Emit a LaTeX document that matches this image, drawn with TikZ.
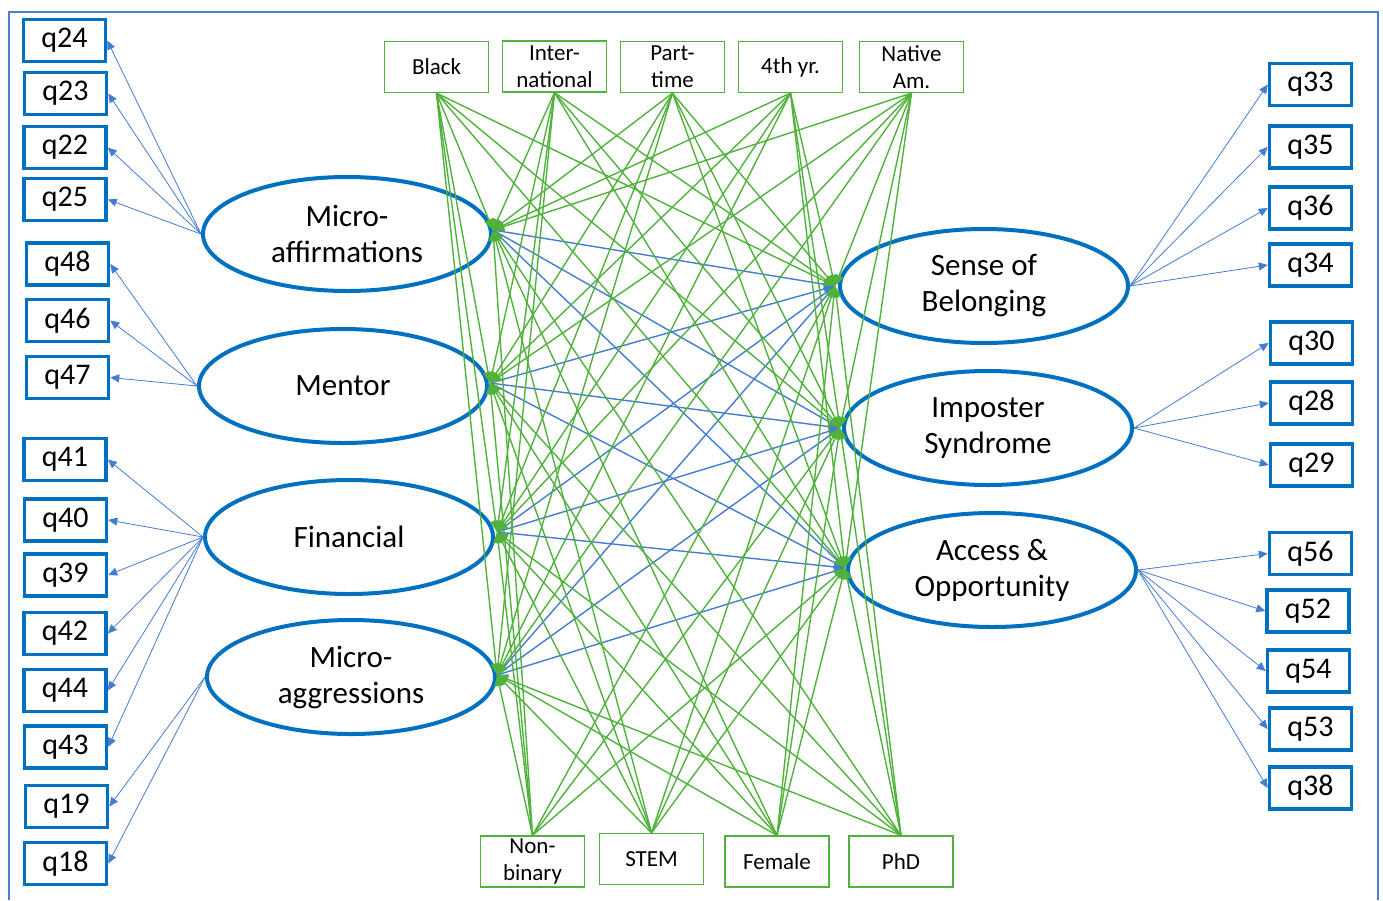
\documentclass[tikz,border=0pt]{standalone}
\usepackage{fontspec}
\setmainfont{Carlito}
\usetikzlibrary{shapes.geometric,arrows.meta}
\definecolor{eblue}{RGB}{0,112,192}
\definecolor{lblue}{RGB}{68,124,210}
\definecolor{fblue}{RGB}{70,130,205}
\definecolor{dgreen}{RGB}{80,178,60}
\tikzset{
  qbox/.style={draw=eblue,line width=3.5pt,minimum width=82pt,minimum height=42pt,inner sep=0pt,font=\fontsize{30}{32}\selectfont},
  factor/.style={ellipse,draw=eblue,line width=4pt,minimum width=288pt,minimum height=114pt,inner sep=0pt,align=center,font=\fontsize{31}{36}\selectfont},
  demo/.style={draw=dgreen,line width=1.3pt,minimum width=104pt,minimum height=51pt,inner sep=0pt,align=center,font=\fontsize{23}{27}\selectfont},
  load/.style={draw=lblue,line width=0.8pt,-{Triangle[length=9pt,width=8pt]}},
  gpath/.style={draw=dgreen,line width=1.4pt,-{Triangle[length=11pt,width=10pt]}},
  bpath/.style={draw=lblue,line width=1.4pt,-{Triangle[length=11pt,width=10pt]}}
}
\begin{document}
\begin{tikzpicture}[x=1pt,y=-1pt]
\useasboundingbox (0,0) rectangle (1383,900);
\draw[fblue,line width=1.5pt] (9,900) -- (9,12) -- (1378,12) -- (1378,900);
% left observed
\node[qbox] (q24) at (64.5,40.5) {q24};
\node[qbox] (q23) at (65.5,93.5) {q23};
\node[qbox] (q22) at (65,147.5) {q22};
\node[qbox] (q25) at (65,199.5) {q25};
\node[qbox] (q48) at (67.5,264) {q48};
\node[qbox] (q46) at (67.5,320.5) {q46};
\node[qbox] (q47) at (67.5,377.5) {q47};
\node[qbox] (q41) at (65,459.5) {q41};
\node[qbox] (q40) at (65.5,520) {q40};
\node[qbox] (q39) at (65.5,575) {q39};
\node[qbox] (q42) at (65,633.5) {q42};
\node[qbox] (q44) at (65,690.5) {q44};
\node[qbox] (q43) at (65.5,747) {q43};
\node[qbox] (q19) at (66.5,806.5) {q19};
\node[qbox] (q18) at (65.5,863.5) {q18};
% right observed
\node[qbox] (q33) at (1310.5,84.5) {q33};
\node[qbox] (q35) at (1310.5,147) {q35};
\node[qbox] (q36) at (1310.5,208) {q36};
\node[qbox] (q34) at (1310.5,265) {q34};
\node[qbox] (q30) at (1311.5,343) {q30};
\node[qbox] (q28) at (1311.5,403) {q28};
\node[qbox] (q29) at (1311.5,465) {q29};
\node[qbox] (q56) at (1310.5,553.5) {q56};
\node[qbox] (q52) at (1308,611) {q52};
\node[qbox] (q54) at (1308.5,671) {q54};
\node[qbox] (q53) at (1310.5,729) {q53};
\node[qbox] (q38) at (1310.5,788) {q38};
% factors
\node[factor] (MA) at (347,234) {Micro-\\affirmations};
\node[factor] (MEN) at (343,386) {Mentor};
\node[factor] (FIN) at (349,537) {Financial};
\node[factor] (MAG) at (351,677) {Micro-\\aggressions};
\node[factor] (SB) at (984,286) {Sense of\\Belonging};
\node[factor] (IS) at (988,428) {Imposter\\Syndrome};
\node[factor] (AO) at (992,570) {Access \&\\Opportunity};
% attach points
\coordinate (MAp) at (493,230);
\coordinate (MENp) at (490,383);
\coordinate (FINp) at (497,532);
\coordinate (MAGp) at (497,675);
\coordinate (SBp) at (835,286);
\coordinate (ISp) at (840,428);
\coordinate (AOp) at (845,568);
% demographics
\node[demo] (Black) at (436.5,67) {Black};
\node[demo] (Intl) at (554.5,66.5) {Inter-\\national};
\node[demo] (Part) at (672.5,67) {Part-\\time};
\node[demo] (Fourth) at (790.5,67) {4th yr.};
\node[demo] (Native) at (911.5,67) {Native\\Am.};
\node[demo] (NB) at (532.5,861.5) {Non-\\binary};
\node[demo] (STEM) at (651.5,859) {STEM};
\node[demo] (Female) at (777,861.5) {Female};
\node[demo] (PhD) at (901,861.5) {PhD};
% loadings
\foreach \q in {q24,q23,q22,q25} \draw[load] (MA.west) -- (\q.east);
\foreach \q in {q48,q46,q47} \draw[load] (MEN.west) -- (\q.east);
\foreach \q in {q41,q40,q39,q42,q44,q43} \draw[load] (FIN.west) -- (\q.east);
\foreach \q in {q19,q18} \draw[load] (MAG.west) -- (\q.east);
\foreach \q in {q33,q35,q36,q34} \draw[load] (SB.east) -- (\q.west);
\foreach \q in {q30,q28,q29} \draw[load] (IS.east) -- (\q.west);
\foreach \q in {q56,q52,q54,q53,q38} \draw[load] (AO.east) -- (\q.west);
% structural paths
\foreach \a in {MAp,MENp,FINp,MAGp}
  \foreach \b in {SBp,ISp,AOp}
    \draw[bpath] (\a) -- (\b);
\foreach \d in {Black,Intl,Part,Fourth,Native}
  \foreach \f in {MAp,MENp,FINp,MAGp,SBp,ISp,AOp}
    \draw[gpath] (\d.south) -- (\f);
\foreach \d in {NB,STEM,Female,PhD}
  \foreach \f in {MAp,MENp,FINp,MAGp,SBp,ISp,AOp}
    \draw[gpath] (\d.north) -- (\f);
\end{tikzpicture}
\end{document}
